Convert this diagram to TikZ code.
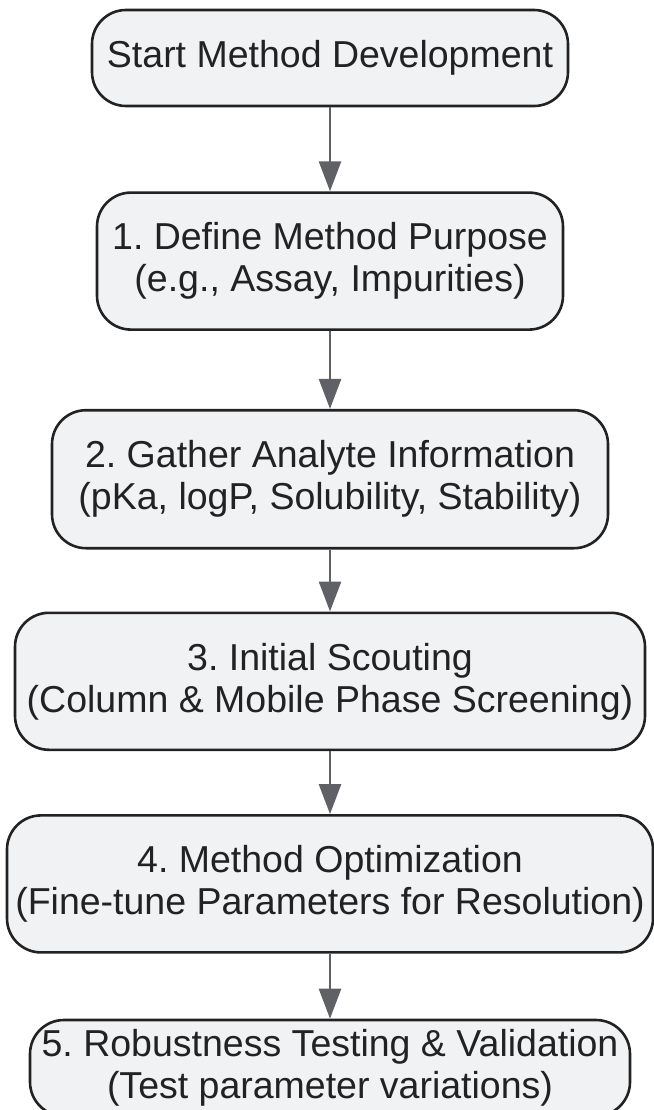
\documentclass[tikz,border=0pt]{standalone}
\usepackage{fontspec}
\setmainfont{Liberation Sans}
\usetikzlibrary{arrows.meta, positioning}
\definecolor{boxfill}{HTML}{F1F2F4}
\definecolor{boxline}{HTML}{222222}
\definecolor{flowgray}{HTML}{5F6166}
\frenchspacing

\begin{document}
\begin{tikzpicture}[
    x=1pt, y=1pt,
    node distance=70pt,
    stage/.style={draw=boxline, line width=2.6pt, fill=boxfill, rounded corners=34pt, align=center, inner sep=0pt, font=\fontsize{37.5}{42}\selectfont, text=boxline},
    flow/.style={-{Triangle[length=30pt, width=22pt]}, line width=2.6pt, draw=flowgray, color=flowgray}
  ]
    \useasboundingbox (0,0) rectangle (653,-1110);

    % Stages
    \node[stage, minimum width=476pt, minimum height=96pt] (start) at (330,-58) {Start Method Development};
    \node[stage, minimum width=466pt, minimum height=137pt, below=84pt of start] (purpose) {1. Define Method Purpose\\(e.g., Assay, Impurities)};
    \node[stage, minimum width=556pt, minimum height=138pt, below=78pt of purpose] (analyte) {2. Gather Analyte Information\\(pKa, logP, Solubility, Stability)};
    \node[stage, minimum width=630pt, minimum height=137pt, below=62pt of analyte] (scouting) {3. Initial Scouting\\(Column \& Mobile Phase Screening)};
    \node[stage, minimum width=646pt, minimum height=137pt, below=63pt of scouting] (optim) {4. Method Optimization\\(Fine-tune Parameters for Resolution)};
    \node[stage, minimum width=600pt, minimum height=96pt, below=65pt of optim] (robust) {5. Robustness Testing \& Validation\\(Test parameter variations)};

    % Arrows
    \draw[flow] (start) -- (purpose);
    \draw[flow] (purpose) -- (analyte);
    \draw[flow] (analyte) -- (scouting);
    \draw[flow] (scouting) -- (optim);
    \draw[flow] (optim) -- (robust);
\end{tikzpicture}
\end{document}
